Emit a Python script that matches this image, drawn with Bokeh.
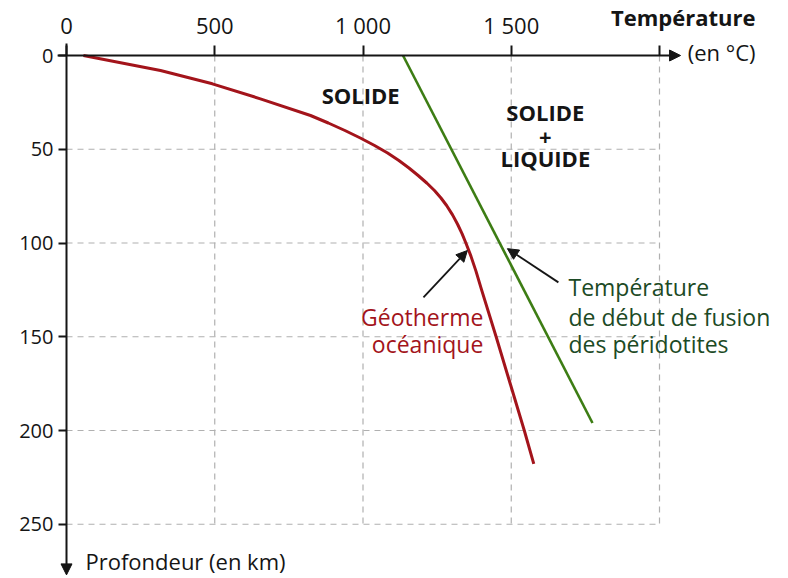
from bokeh.plotting import figure
from bokeh.models import Range1d, Label, Arrow, NormalHead, FixedTicker
from bokeh.embed import file_html
from bokeh.resources import INLINE

# ---- data ----
geo_temp = [57, 317, 492, 654, 823, 883, 939, 991, 1039, 1083, 1121, 1155, 1186, 1215,
            1241, 1263, 1282, 1302, 1319, 1334, 1347, 1364, 1381, 1400, 1449, 1544, 1576]
geo_depth = [0, 8, 15.1, 23.1, 32, 36, 40, 44, 48, 52, 56, 60, 64, 68,
             72, 76, 80, 85, 90, 95, 100, 107, 115, 125, 150, 200, 217.8]
sol_temp = [1135, 1774]
sol_depth = [0, 196]
x_ticks = [0, 500, 1000, 1500, 2000]
x_tick_labels = ["0", "500", "1 000", "1 500", ""]
y_ticks = [0, 50, 100, 150, 200, 250]
y_tick_labels = ["0", "50", "100", "150", "200", "250"]

FONT = "Open Sans"
INK = "#151515"
RED = "#a3141b"
GREEN_LINE = "#3d7d14"
GREEN_TEXT = "#1c4a25"
GRID = "#b0b0b0"

W, H = 786, 576
PX_PER_DEG = 0.2965     # screen scale used to place the frame
PX_PER_KM = 1.875
X0_PX, Y0_PX = 66, 55   # where the origin sits on the page

p = figure(width=W, height=H,
           x_range=Range1d(-X0_PX / PX_PER_DEG, (W - X0_PX) / PX_PER_DEG),
           y_range=Range1d((H - Y0_PX) / PX_PER_KM, -Y0_PX / PX_PER_KM),
           x_axis_location="above", y_axis_location="left",
           output_backend="svg", toolbar_location=None,
           min_border_left=0, min_border_right=0, min_border_top=0, min_border_bottom=0)
p.outline_line_color = None
p.grid.visible = False
p.background_fill_color = "white"
p.border_fill_color = "white"

# axes through the origin (lines drawn as arrows below)
p.xaxis.fixed_location = 0
p.yaxis.fixed_location = 0
p.xaxis.ticker = FixedTicker(ticks=x_ticks)
p.yaxis.ticker = FixedTicker(ticks=y_ticks)
p.xaxis.major_label_overrides = dict(zip(x_ticks, x_tick_labels))
p.yaxis.major_label_overrides = dict(zip(y_ticks, y_tick_labels))
for ax in (p.xaxis[0], p.yaxis[0]):
    ax.axis_line_color = None
    ax.major_tick_line_width = 2
    ax.major_tick_line_color = INK
    ax.major_tick_in = 0
    ax.minor_tick_line_color = None
    ax.major_label_text_font = FONT
    ax.major_label_text_color = INK
p.xaxis.major_tick_out = 10
p.yaxis.major_tick_out = 8
p.xaxis.major_label_text_font_size = "22px"
p.yaxis.major_label_text_font_size = "20px"
p.xaxis.major_label_standoff = 6
p.yaxis.major_label_standoff = 5

# dashed grid limited to the data area
p.segment(x0=x_ticks[1:], y0=[y_ticks[0]] * 4, x1=x_ticks[1:], y1=[y_ticks[-1]] * 4,
          line_color=GRID, line_width=1.2, line_dash="6 5")
p.segment(x0=[x_ticks[0]] * 5, y0=y_ticks[1:], x1=[x_ticks[-1]] * 5, y1=y_ticks[1:],
          line_color=GRID, line_width=1.2, line_dash="6 5")

# curves
p.line(sol_temp, sol_depth, line_color=GREEN_LINE, line_width=2.6)
p.line(geo_temp, geo_depth, line_color=RED, line_width=3, line_join="round")

def head():
    return NormalHead(size=11, fill_color=INK, line_color=INK)

# axis lines with arrowheads
p.add_layout(Arrow(end=head(), x_start=-30, y_start=0, x_end=2071, y_end=0,
                   line_color=INK, line_width=2))
p.add_layout(Arrow(end=head(), x_start=0, y_start=-6.4, x_end=0, y_end=277,
                   line_color=INK, line_width=2))

# pointer arrows
p.add_layout(Arrow(end=head(), x_start=1204, y_start=129, x_end=1352, y_end=104,
                   line_color=INK, line_width=1.8))
p.add_layout(Arrow(end=head(), x_start=1659, y_start=121, x_end=1487, y_end=103,
                   line_color=INK, line_width=1.8))

def lab(x, y, text, align="center", color=INK, size="23px", style="normal"):
    p.add_layout(Label(x=x, y=y, text=text, text_align=align, text_baseline="middle",
                       text_color=color, text_font=FONT, text_font_size=size,
                       text_font_style=style))

lab(992, 21.3, "SOLIDE", style="bold", size="22px")
lab(1615, 29.9, "SOLIDE", style="bold", size="22px")
lab(1615, 43.7, "+", style="bold", size="22px")
lab(1615, 54.9, "LIQUIDE", style="bold", size="22px")
lab(1406, 139.2, "Géotherme", align="right", color=RED)
lab(1406, 154.1, "océanique", align="right", color=RED)
lab(1693, 123.7, "Température", align="left", color=GREEN_TEXT)
lab(1693, 139.2, "de début de fusion", align="left", color=GREEN_TEXT)
lab(1693, 154.1, "des péridotites", align="left", color=GREEN_TEXT)
lab(2324, -20.3, "Température", align="right", size="22px", style="bold")
lab(2324, -2.1, "(en °C)", align="right", size="22px")
lab(64, 269.6, "Profondeur (en km)", align="left", size="22px")

open("out.html", "w").write(file_html(p, INLINE))
